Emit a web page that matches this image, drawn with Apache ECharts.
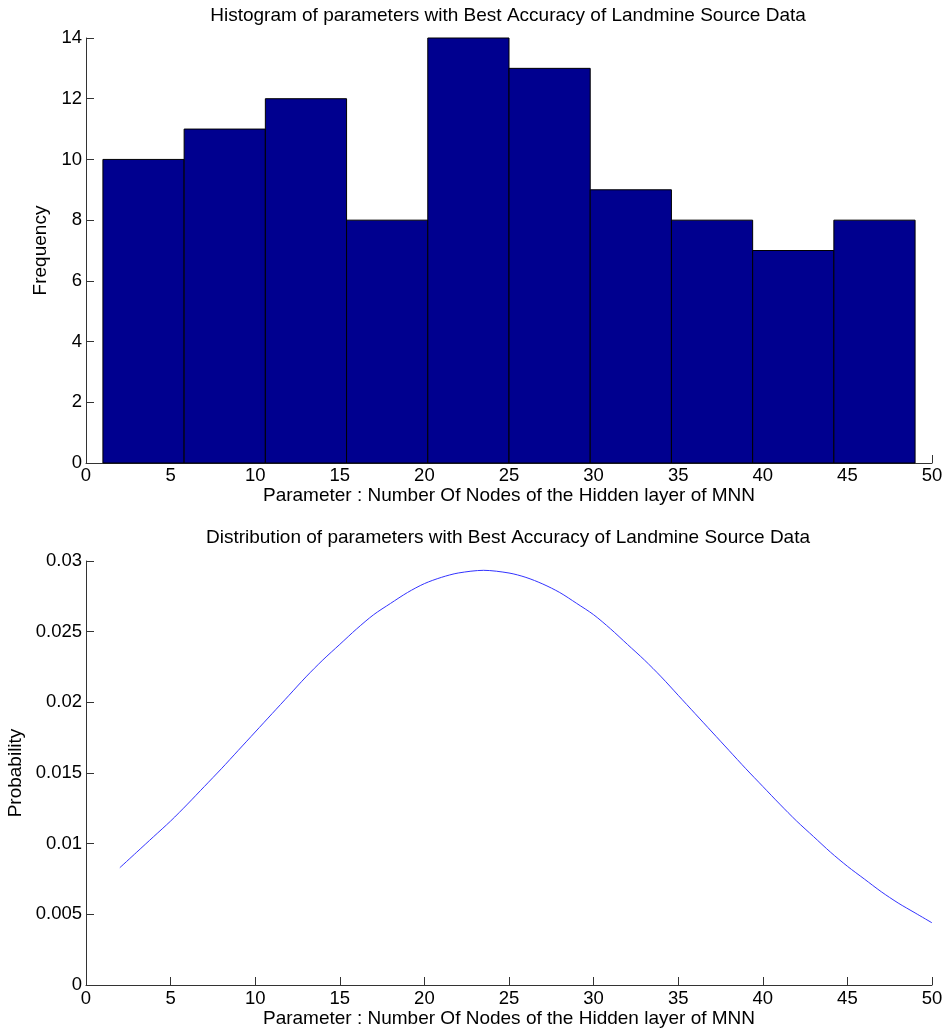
<!DOCTYPE html>
<html>
  <head>
    <meta charset="utf-8" />
    <title>Landmine histogram</title>
    <script src="https://cdn.jsdelivr.net/npm/echarts@6/dist/echarts.min.js"></script>
    <style>
      html, body { margin: 0; padding: 0; background: #fff; }
    </style>
  </head>
  <body>
    <div id="main" style="width: 948px; height: 1032px"></div>
    <script type="text/javascript">
      // histogram bins (edges) and counts
      var binEdges = [1, 5.8, 10.6, 15.4, 20.2, 25, 29.8, 34.6, 39.4, 44.2, 49];
      var counts = [10, 11, 12, 8, 14, 13, 9, 8, 7, 8];

      // distribution curve
      var curveX = [2, 3, 4, 5, 6, 7, 8, 9, 10, 11, 12, 13, 14, 15, 16, 17, 18, 19, 20, 21, 22, 23.5, 25, 26, 27, 28, 29, 30,
                    31, 32, 33, 34, 35, 36, 37, 38, 39, 40, 41, 42, 43, 44, 45, 46, 47, 48, 49, 50];
      var curveY = [0.0083, 0.0094, 0.0105, 0.0116, 0.0128, 0.01405, 0.0153, 0.0166, 0.0179, 0.0192, 0.0205, 0.0218, 0.0230,
                    0.0241, 0.0252, 0.0262, 0.0270, 0.02777, 0.0284, 0.02884, 0.02915, 0.02934, 0.02915, 0.02884, 0.02837,
                    0.02777, 0.0270, 0.0262, 0.0252, 0.0241, 0.0230, 0.0218, 0.0205, 0.0192, 0.0179, 0.0166, 0.0153,
                    0.01405, 0.0128, 0.0116, 0.0105, 0.0094, 0.0084, 0.0075, 0.0066, 0.0058, 0.0051, 0.0044];

      var histTitle = "Histogram of parameters with Best Accuracy of Landmine Source Data";
      var distTitle = "Distribution of parameters with Best Accuracy of Landmine Source Data";
      var xName = "Parameter : Number Of Nodes of the Hidden layer of MNN";

      var histData = [];
      for (var i = 0; i < counts.length; i++) {
        histData.push([binEdges[i], binEdges[i + 1], counts[i]]);
      }
      var curveData = [];
      for (var j = 0; j < curveX.length; j++) {
        curveData.push([curveX[j], curveY[j]]);
      }

      var font = "Liberation Sans, Arial, sans-serif";
      var axisLine = { show: true, onZero: false, lineStyle: { color: "#333", width: 1 } };
      var axisTick = { show: true, inside: true, length: 8, lineStyle: { color: "#333" } };
      var label = { color: "#000", fontSize: 18.5, fontFamily: font };
      var nameStyle = { color: "#000", fontSize: 19, fontFamily: font };
      var titleStyle = { fontSize: 19, fontWeight: "normal", color: "#000", fontFamily: font };

      var myChart = echarts.init(document.getElementById("main"));
      var option = {
        animation: false,
        backgroundColor: "#fff",
        title: [
          { text: histTitle, left: 508, top: 6, padding: 0, textAlign: "center", textStyle: titleStyle },
          { text: distTitle, left: 508, top: 528, padding: 0, textAlign: "center", textStyle: titleStyle }
        ],
        grid: [
          { left: 86, right: 16, top: 38, height: 425, outerBoundsMode: "none", containLabel: false },
          { left: 86, right: 16, top: 561, height: 424, outerBoundsMode: "none", containLabel: false }
        ],
        xAxis: [
          {
            type: "value", gridIndex: 0, min: 0, max: 50, interval: 5,
            name: xName, nameLocation: "middle", nameGap: 21, nameTextStyle: nameStyle,
            axisLine: axisLine, axisTick: axisTick, axisLabel: Object.assign({ margin: 3 }, label),
            splitLine: { show: false }
          },
          {
            type: "value", gridIndex: 1, min: 0, max: 50, interval: 5,
            name: xName, nameLocation: "middle", nameGap: 23, nameTextStyle: nameStyle,
            axisLine: axisLine, axisTick: axisTick, axisLabel: Object.assign({ margin: 4 }, label),
            splitLine: { show: false }
          }
        ],
        yAxis: [
          {
            type: "value", gridIndex: 0, min: 0, max: 14, interval: 2,
            name: "Frequency", nameLocation: "middle", nameGap: 31, nameTextStyle: nameStyle,
            axisLine: axisLine, axisTick: axisTick, axisLabel: Object.assign({ margin: 4 }, label),
            splitLine: { show: false }
          },
          {
            type: "value", gridIndex: 1, min: 0, max: 0.03, interval: 0.005,
            name: "Probability", nameLocation: "middle", nameGap: 53, nameTextStyle: nameStyle,
            axisLine: axisLine, axisTick: axisTick, axisLabel: Object.assign({ margin: 4 }, label),
            splitLine: { show: false }
          }
        ],
        series: [
          {
            type: "custom",
            xAxisIndex: 0,
            yAxisIndex: 0,
            data: histData,
            encode: { x: [0, 1], y: 2 },
            renderItem: function (params, api) {
              var p0 = api.coord([api.value(0), api.value(2)]);
              var p1 = api.coord([api.value(1), 0]);
              return {
                type: "rect",
                shape: { x: p0[0], y: p0[1], width: p1[0] - p0[0], height: p1[1] - p0[1] },
                style: { fill: "#00008f", stroke: "#000", lineWidth: 1 }
              };
            }
          },
          {
            type: "line",
            xAxisIndex: 1,
            yAxisIndex: 1,
            data: curveData,
            smooth: 0.3,
            showSymbol: false,
            lineStyle: { color: "#3333ff", width: 1 }
          }
        ]
      };
      myChart.setOption(option);
    </script>
  </body>
</html>
